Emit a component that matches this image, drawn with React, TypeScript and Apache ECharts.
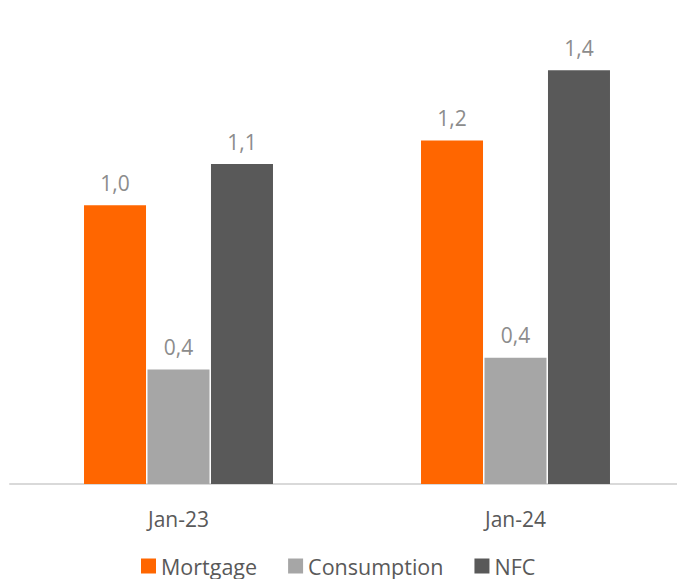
import React, { useEffect, useRef } from "react";
import * as echarts from "echarts";

const categories = ["Jan-23", "Jan-24"];
const mortgage = [0.95, 1.17];
const consumption = [0.39, 0.43];
const nfc = [1.09, 1.41];
const seriesNames = ["Mortgage", "Consumption", "NFC"];
const colors = ["#ff6600", "#a6a6a6", "#595959"];

export default function App() {
  const ref = useRef<HTMLDivElement>(null);
  useEffect(() => {
    document.body.style.margin = "0";
    const chart = echarts.init(ref.current!, null, { renderer: "svg" });
    const font = "'Open Sans', 'Noto Sans', sans-serif";
    const mk = (name: string, data: number[], color: string) => ({
      name,
      type: "bar",
      data,
      barWidth: 62,
      barGap: "2.4%",
      itemStyle: { color },
      label: {
        show: true,
        position: "top",
        distance: 12,
        color: "#8c8c8c",
        fontSize: 21,
        fontFamily: font,
        formatter: (p: any) => (Math.round(p.value * 10) / 10).toFixed(1).replace(".", ","),
      },
    });
    chart.setOption({
      animation: false,
      color: colors,
      grid: { left: 10, right: 6, top: 10, bottom: 95, containLabel: false },
      xAxis: {
        type: "category",
        data: categories,
        axisLine: { lineStyle: { color: "#d9d9d9", width: 2 } },
        axisTick: { show: false },
        axisLabel: { color: "#595959", fontSize: 21, fontFamily: font, margin: 24 },
      },
      yAxis: { type: "value", min: 0, max: 1.615, show: false, splitLine: { show: false } },
      legend: {
        bottom: -3,
        left: 136,
        itemWidth: 15,
        itemHeight: 15,
        itemGap: 31,
        icon: "rect",
        textStyle: { color: "#595959", fontSize: 21.5, fontFamily: font },
        data: seriesNames,
      },
      series: [
        mk(seriesNames[0], mortgage, colors[0]),
        mk(seriesNames[1], consumption, colors[1]),
        mk(seriesNames[2], nfc, colors[2]),
      ],
    });
    return () => chart.dispose();
  }, []);
  return (
    <div style={{ position: "absolute", left: 0, top: 0, width: 677, height: 579, overflow: "hidden" }}>
      <div ref={ref} style={{ width: 690, height: 579 }} />
    </div>
  );
}
